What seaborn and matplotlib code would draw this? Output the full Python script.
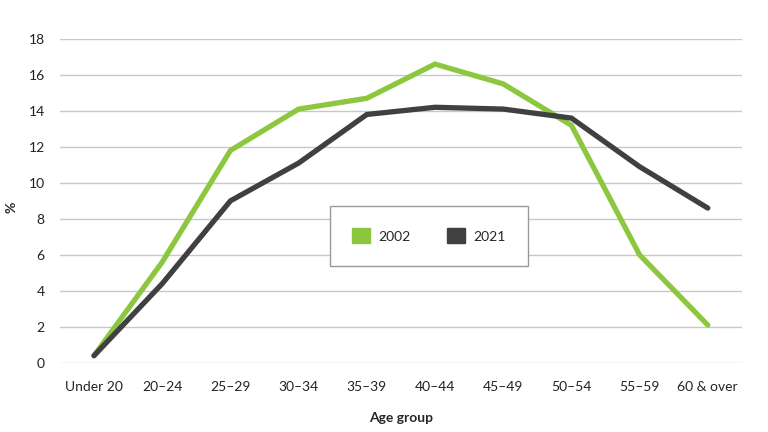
import matplotlib.pyplot as plt
import seaborn as sns
import pandas as pd

# Share of people by age group, 2002 vs 2021
age_groups = ["Under 20", "20–24", "25–29", "30–34", "35–39",
              "40–44", "45–49", "50–54", "55–59", "60 & over"]
pct_2002 = [0.4, 5.6, 11.8, 14.1, 14.7, 16.6, 15.5, 13.2, 6.0, 2.1]
pct_2021 = [0.4, 4.4, 9.0, 11.1, 13.8, 14.2, 14.1, 13.6, 10.9, 8.6]
years = ["2002", "2021"]
colors = {"2002": "#8DC63F", "2021": "#404040"}

df = pd.DataFrame({
    "Age group": age_groups * 2,
    "pct": pct_2002 + pct_2021,
    "year": [years[0]] * len(age_groups) + [years[1]] * len(age_groups),
})

sns.set_style("white")
plt.rcParams["font.family"] = ["Lato", "DejaVu Sans"]

fig = plt.figure(figsize=(7.68, 4.32), dpi=100)
ax = fig.add_axes([0.078, 0.16, 0.888, 0.75])

sns.lineplot(data=df, x="Age group", y="pct", hue="year", palette=colors,
             linewidth=3.8, sort=False, ax=ax, legend=False,
             solid_capstyle="round", solid_joinstyle="miter")

ax.set_ylim(0, 18)
ax.set_yticks(range(0, 19, 2))
ax.set_xlim(-0.5, len(age_groups) - 0.5)
ax.yaxis.grid(True, color="#c8c8c8", linewidth=1)
ax.set_axisbelow(True)
for s in ax.spines.values():
    s.set_visible(False)
ax.tick_params(axis="both", length=0, labelsize=10, colors="#222222")
ax.tick_params(axis="y", pad=11)
ax.tick_params(axis="x", pad=13)

ax.set_xlabel("Age group", fontsize=10, fontweight="bold", labelpad=14)
ax.set_ylabel("%", fontsize=10, fontweight="bold")
ax.yaxis.set_label_coords(-0.062, 0.48)

# legend box in the middle of the plot
handles = [plt.Rectangle((0, 0), 1, 1, color=colors[y]) for y in years]
leg = ax.legend(handles, years, loc="center", bbox_to_anchor=(0.541, 0.392),
                ncol=2, frameon=True, fancybox=False, fontsize=10,
                handlelength=1.3, handleheight=1.3, columnspacing=2.6,
                borderpad=1.6, handletextpad=0.6, borderaxespad=0)
leg.get_frame().set_edgecolor("#999999")
leg.get_frame().set_linewidth(1)
leg.get_frame().set_alpha(1)

fig.savefig("out.png", dpi=100)
